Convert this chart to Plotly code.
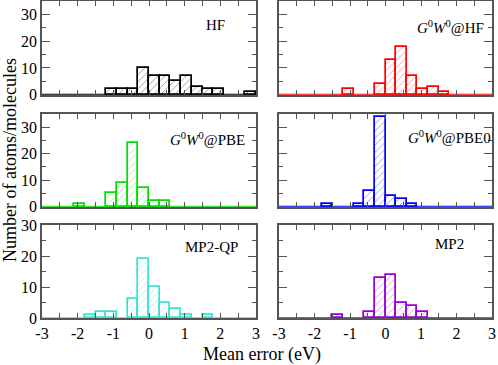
import plotly.graph_objects as go

# bin centers: 20 bins of width 0.3 eV from -3 to 3
bin_centers = [round(-2.85 + 0.3 * i, 2) for i in range(20)]
bin_width = 0.3

hf =        [0, 0, 0, 0, 0, 0, 2, 2, 2, 10, 7, 7, 5, 7, 3, 2, 2, 0, 0, 1]
g0w0_hf =   [0, 0, 0, 0, 0, 0, 2, 0, 0, 4, 13, 18, 7, 2, 3, 1, 0, 0, 0, 0]
g0w0_pbe =  [0, 0, 0, 1, 0, 0, 5, 9, 24, 7, 2, 2, 0, 0, 0, 0, 0, 0, 0, 0]
g0w0_pbe0 = [0, 0, 0, 0, 1, 0, 0, 1, 6, 34, 4, 3, 1, 0, 0, 0, 0, 0, 0, 0]
mp2_qp =    [0, 0, 0, 0, 1, 2, 2, 0, 6, 19, 10, 5, 3, 1, 0, 1, 0, 0, 0, 0]
mp2 =       [0, 0, 0, 0, 0, 1, 0, 0, 2, 13, 14, 5, 4, 2, 0, 0, 0, 0, 0, 0]

labels = ["HF", "<i>G</i><sup>0</sup><i>W</i><sup>0</sup>@HF",
          "<i>G</i><sup>0</sup><i>W</i><sup>0</sup>@PBE",
          "<i>G</i><sup>0</sup><i>W</i><sup>0</sup>@PBE0",
          "MP2-QP", "MP2"]
series = [hf, g0w0_hf, g0w0_pbe, g0w0_pbe0, mp2_qp, mp2]
colors = ["#000000", "#ff0000", "#00e000", "#0000ff", "#40e0d0", "#9400d3"]
y_max = [35, 35, 35, 35, 30, 30]
x_ticks = [-3, -2, -1, 0, 1, 2, 3]

W, H = 498, 365
xdom = [(42 / W, 256 / W), (279 / W, 492 / W)]
ydom = [(1 - 94.7 / H, 1 - 1 / H), (1 - 206.7 / H, 1 - 114 / H), (1 - 318 / H, 1 - 225 / H)]

FONT = "Liberation Serif"
fig = go.Figure()
layout = {}
annotations = []
for k in range(6):
    row, col = divmod(k, 2)
    n = k + 1
    xa = "x" if n == 1 else f"x{n}"
    ya = "y" if n == 1 else f"y{n}"
    vals = [v if v else None for v in series[k]]
    fig.add_trace(go.Bar(
        x=bin_centers, y=vals, width=bin_width, xaxis=xa, yaxis=ya,
        marker=dict(color="white", line=dict(color=colors[k], width=1.7),
                    pattern=dict(shape="/", fgcolor=colors[k], bgcolor="white",
                                 size=5, solidity=0.12, fgopacity=0.6)),
        showlegend=False))
    fig.add_trace(go.Scatter(x=[-3, 3], y=[0, 0], mode="lines", xaxis=xa, yaxis=ya,
                             line=dict(color=colors[k], width=1.7), showlegend=False,
                             hoverinfo="skip"))
    bottom = row == 2
    left = col == 0
    layout[f"xaxis{'' if n == 1 else n}"] = dict(
        domain=list(xdom[col]), anchor=ya, range=[-3, 3], automargin=False,
        tickvals=x_ticks, ticktext=[str(t) for t in x_ticks],
        showticklabels=bottom, ticks="inside", ticklen=5, tickwidth=1.2,
        tickcolor="#555", minor=dict(dtick=0.5, ticks="inside", ticklen=5, tickwidth=1.2, tickcolor="#555"),
        showline=True, linecolor="#555", linewidth=1.5, mirror="allticks",
        showgrid=False, zeroline=False,
        tickfont=dict(family=FONT, size=16, color="black"))
    layout[f"yaxis{'' if n == 1 else n}"] = dict(
        domain=list(ydom[row]), anchor=xa, range=[0, y_max[k]], automargin=False,
        tickvals=[0, 10, 20, 30], showticklabels=left,
        ticks="inside", ticklen=8, tickwidth=1.2, tickcolor="#555",
        minor=dict(dtick=5, ticks="inside", ticklen=4, tickwidth=1.2, tickcolor="#555"),
        showline=True, linecolor="#555", linewidth=1.5, mirror="allticks",
        showgrid=False, zeroline=False,
        tickfont=dict(family=FONT, size=16, color="black"))

label_pos = [(227, 25, "right"), (486, 27, "right"), (247, 139, "right"),
             (493, 137, "right"), (240, 247, "right"), (466, 244, "right")]
for k, (px, py, al) in enumerate(label_pos):
    annotations.append(dict(x=px / W, y=1 - py / H, xref="paper", yref="paper",
                            text=labels[k], showarrow=False, xanchor=al, yanchor="middle",
                            font=dict(family=FONT, size=15, color="black")))

annotations.append(dict(x=262 / W, y=1 - 354 / H, xref="paper", yref="paper",
                        text="Mean error (eV)", showarrow=False, xanchor="center",
                        yanchor="middle", font=dict(family=FONT, size=18, color="black")))
annotations.append(dict(x=10 / W, y=1 - 160 / H, xref="paper", yref="paper",
                        text="Number of atoms/molecules", showarrow=False, textangle=-90,
                        xanchor="center", yanchor="middle",
                        font=dict(family=FONT, size=18, color="black")))

fig.update_layout(width=W, height=H, margin=dict(l=0, r=0, t=0, b=0),
                  paper_bgcolor="white", plot_bgcolor="white", bargap=0,
                  annotations=annotations, **layout)
fig.write_html("out.html", config={"displayModeBar": False},
               post_script="document.body.style.margin='0';document.body.style.overflow='hidden';")
